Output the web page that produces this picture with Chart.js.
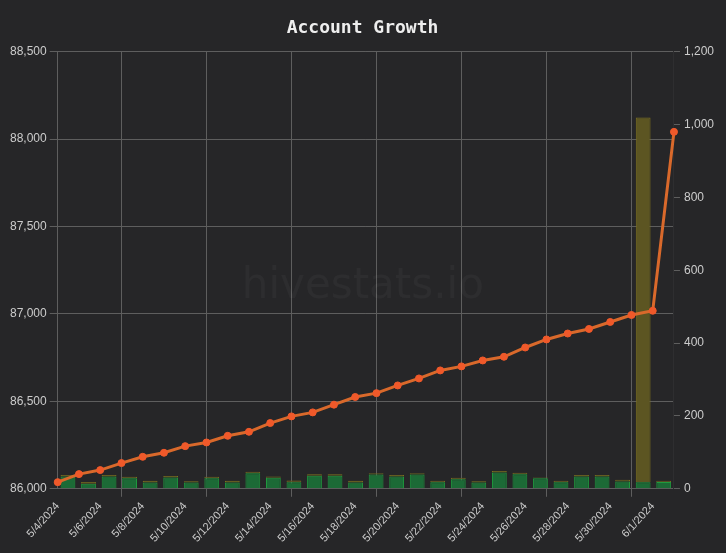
<!DOCTYPE html>
<html>
<head>
<meta charset="utf-8">
<script src="https://cdn.jsdelivr.net/npm/chart.js@4/dist/chart.umd.min.js"></script>
<style>
  html, body { margin: 0; padding: 0; background: #262628; }
  #wrap { width: 726px; height: 553px; }
</style>
</head>
<body>
<div id="wrap"><canvas id="growthChart"></canvas></div>
<script>
const dates = [
  '5/4/2024', '5/5/2024', '5/6/2024', '5/7/2024', '5/8/2024', '5/9/2024', '5/10/2024', '5/11/2024',
  '5/12/2024', '5/13/2024', '5/14/2024', '5/15/2024', '5/16/2024', '5/17/2024', '5/18/2024', '5/19/2024',
  '5/20/2024', '5/21/2024', '5/22/2024', '5/23/2024', '5/24/2024', '5/25/2024', '5/26/2024', '5/27/2024',
  '5/28/2024', '5/29/2024', '5/30/2024', '5/31/2024', '6/1/2024', '6/2/2024'
];

// account value (left axis)
const accountValue = [
  86038, 86084, 86107, 86147, 86183, 86206, 86244, 86265, 86303, 86326,
  86376, 86414, 86437, 86481, 86525, 86547, 86591, 86631, 86677, 86700,
  86734, 86755, 86808, 86854, 86888, 86914, 86954, 86994, 87018, 88041
];

// daily gains (right axis), green + yellow stacked
const greenGain = [
  34, 14, 34, 29, 17, 31, 17, 29, 17, 43, 30, 18, 36, 36, 17,
  39, 34, 39, 18, 26, 17, 45, 40, 29, 18, 34, 34, 20, 18, 19
];
const yellowGain = [
  4, 5, 4, 4, 5, 4, 4, 4, 5, 4, 4, 5, 4, 4, 5,
  4, 4, 4, 4, 4, 4, 4, 4, 2, 4, 4, 4, 5, 1001, 3
];

const chartBg = {
  id: 'chartBg',
  beforeDraw(chart) {
    const c = chart.ctx;
    c.save();
    c.fillStyle = '#262628';
    c.fillRect(0, 0, chart.width, chart.height);
    c.restore();
  },
  beforeDatasetsDraw(chart) {
    const a = chart.chartArea;
    const c = chart.ctx;
    c.save();
    c.font = '42px "DejaVu Sans"';
    c.fillStyle = 'rgba(255,255,255,0.035)';
    c.textAlign = 'center';
    c.textBaseline = 'alphabetic';
    c.fillText('hivestats.io', (a.left + a.right) / 2 - 3, (a.top + a.bottom) / 2 + 28);
    c.restore();
  }
};

const yFont = { family: '"Liberation Sans"', size: 12 };
const xFont = { family: '"Liberation Sans"', size: 11 };

const ctx = document.getElementById('growthChart').getContext('2d');
new Chart(ctx, {
  type: 'bar',
  data: {
    labels: dates,
    datasets: [
      {
        type: 'line',
        label: 'Account Value',
        data: accountValue,
        xAxisID: 'x',
        yAxisID: 'y',
        borderColor: '#d9692b',
        backgroundColor: '#f0592a',
        pointBackgroundColor: '#f0592a',
        pointBorderColor: '#f0592a',
        pointRadius: 3.5,
        pointBorderWidth: 1,
        borderWidth: 3,
        tension: 0,
        order: 0
      },
      {
        label: 'Gain',
        data: greenGain,
        xAxisID: 'xBar',
        yAxisID: 'y1',
        stack: 'gain',
        grouped: false,
        backgroundColor: '#1c6a36',
        borderColor: '#1f9a3e',
        borderWidth: 1,
        order: 1
      },
      {
        label: 'Extra',
        data: yellowGain,
        xAxisID: 'xBar',
        yAxisID: 'y1',
        stack: 'gain',
        grouped: false,
        backgroundColor: '#5c5522',
        borderColor: '#7d7220',
        borderWidth: 1,
        order: 1
      }
    ]
  },
  plugins: [chartBg],
  options: {
    responsive: true,
    maintainAspectRatio: false,
    animation: false,
    layout: { padding: { left: 7, right: 8, bottom: 5 } },
    plugins: {
      legend: { display: false },
      tooltip: { enabled: false },
      title: {
        display: true,
        text: 'Account Growth',
        color: '#eeeeee',
        font: { family: '"DejaVu Sans Mono"', size: 18, weight: 'bold' },
        padding: { top: 18, bottom: 12 }
      }
    },
    scales: {
      x: {
        type: 'category',
        offset: false,
        grid: { color: '#5e5e5e', tickLength: 8 },
        border: { color: '#5e5e5e' },
        ticks: {
          color: '#cccccc',
          font: xFont,
          autoSkip: true,
          maxTicksLimit: 15,
          minRotation: 48,
          maxRotation: 48
        }
      },
      xBar: {
        type: 'category',
        offset: true,
        display: false,
        stacked: true
      },
      y: {
        position: 'left',
        min: 86000,
        max: 88500,
        grid: { color: '#5e5e5e', tickLength: 8 },
        border: { color: '#5e5e5e' },
        ticks: {
          stepSize: 500,
          padding: 3,
          color: '#cccccc',
          font: yFont
        }
      },
      y1: {
        position: 'right',
        min: 0,
        max: 1200,
        stacked: true,
        grid: { drawOnChartArea: false, color: '#5e5e5e', tickLength: 6 },
        border: { color: '#2e2e30' },
        ticks: {
          stepSize: 200,
          padding: 4,
          color: '#cccccc',
          font: yFont
        }
      }
    }
  }
});
</script>
</body>
</html>
